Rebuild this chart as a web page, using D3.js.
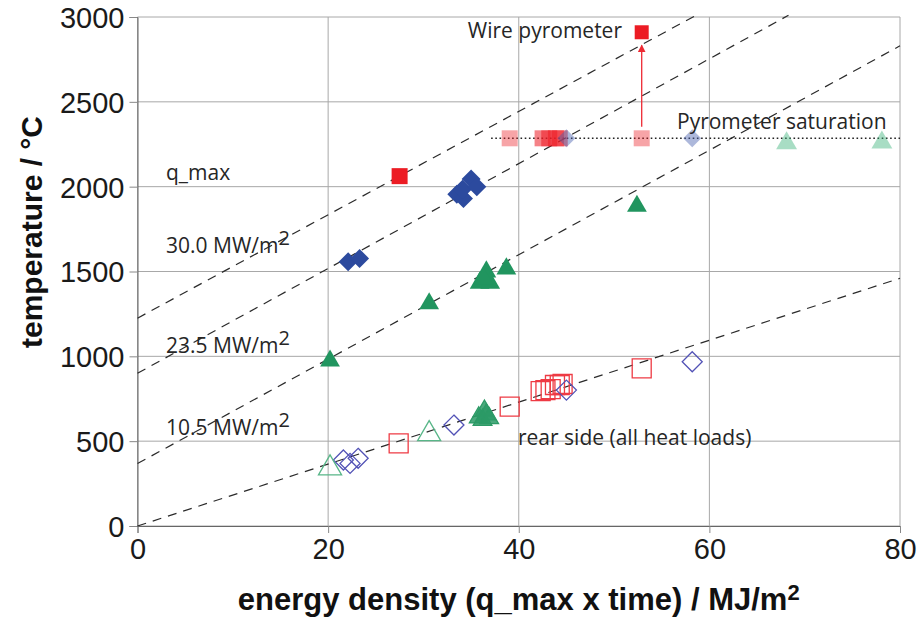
<!DOCTYPE html>
<html>
<head>
<meta charset="utf-8">
<script src="https://cdn.jsdelivr.net/npm/d3@7"></script>
<style>
  body { margin: 0; background: #fff; }
  text { font-family: "Liberation Sans", Arial, sans-serif; }
  .note { font-family: "Open Sans", "Noto Sans", sans-serif; fill: #262626; }
</style>
</head>
<body>
<div id="chart"></div>
<script>
// axis ticks
var xTicks = [0, 20, 40, 60, 80];
var yTicks = [0, 500, 1000, 1500, 2000, 2500, 3000];

// front side (filled markers) [energy density, temperature]
var frontSquares = [[27.5, 2062]];
var wireSquares = [[52.9, 2910]];
var frontDiamonds = [[22.1, 1557], [23.3, 1577], [33.5, 1955], [34.2, 1930], [34.1, 1985], [35.0, 2045], [35.6, 2000]];
var frontTriangles = [[20.2, 985], [30.6, 1322], [35.9, 1444], [36.6, 1510], [37.0, 1444], [36.3, 1470], [38.7, 1528], [52.4, 1897]];

// pyrometer saturated points
var satLevel = 2285;
var satSquaresPale = [[39.05, 2285], [52.9, 2285]];
var satSquaresHot = [[42.5, 2285], [43.2, 2285], [43.9, 2285], [44.3, 2285]];
var satDiamonds = [[45.0, 2285], [58.2, 2285]];
var satTriangles = [[68.1, 2268], [78.1, 2272]];

// rear side (open markers)
var rearSquares = [[27.4, 487], [39.05, 703], [42.3, 795], [42.8, 801], [43.35, 807], [43.8, 831], [44.3, 831], [44.6, 837], [52.9, 929]];
var rearDiamonds = [[21.6, 389], [22.3, 369], [23.15, 399], [33.2, 595], [45.0, 801], [58.2, 968]];
var rearTriangles = [[20.2, 354], [30.6, 556]];
var rearTrianglesDense = [[35.8, 650], [36.2, 636], [36.4, 690], [36.6, 668], [36.9, 646]];

// dashed guide lines
var guideQmax = [[0, 1225], [58.6, 3010]];
var guide30 = [[0, 900], [68.3, 3010]];
var guide235 = [[0, 368], [80, 2830]];
var guideRear = [[0, 0], [80, 1460]];

var width = 922, height = 621;
var margin = { top: 17, right: 22, bottom: 95, left: 137.5 };
var w = width - margin.left - margin.right;
var h = height - margin.top - margin.bottom;

var svg = d3.select("#chart").append("svg")
  .attr("width", width)
  .attr("height", height);

var g = svg.append("g")
  .attr("transform", "translate(" + margin.left + "," + margin.top + ")");

var x = d3.scaleLinear().domain([0, 80]).range([0, w]);
var y = d3.scaleLinear().domain([0, 3000]).range([h, 0]);

// grid
g.append("g").selectAll("line").data(xTicks).enter().append("line")
  .attr("x1", function(d) { return x(d); }).attr("x2", function(d) { return x(d); })
  .attr("y1", 0).attr("y2", h)
  .attr("stroke", "#a8a8a8").attr("stroke-width", 1);
g.append("g").selectAll("line").data(yTicks).enter().append("line")
  .attr("y1", function(d) { return y(d); }).attr("y2", function(d) { return y(d); })
  .attr("x1", 0).attr("x2", w)
  .attr("stroke", "#a8a8a8").attr("stroke-width", 1);

// axes
var xAxis = d3.axisBottom(x).tickValues(xTicks).tickSize(7).tickPadding(5).tickFormat(d3.format("d"));
var yAxis = d3.axisLeft(y).tickValues(yTicks).tickSize(8).tickPadding(5).tickFormat(d3.format("d"));

var gx = g.append("g").attr("transform", "translate(0," + h + ")").call(xAxis);
var gy = g.append("g").call(yAxis);
[gx, gy].forEach(function(a) {
  a.select(".domain").attr("stroke", "#666");
  a.selectAll(".tick line").attr("stroke", "#888");
  a.selectAll(".tick text")
    .attr("fill", "#1a1a1a")
    .style("font-size", "29px");
});
gy.selectAll(".tick text").attr("dy", "0.36em");

// dashed guides
var line = d3.line()
  .x(function(d) { return x(d[0]); })
  .y(function(d) { return y(d[1]); });
[guideQmax, guide30, guide235, guideRear].forEach(function(pts) {
  g.append("path")
    .attr("d", line(pts))
    .attr("fill", "none")
    .attr("stroke", "#2a2a2a")
    .attr("stroke-width", 1.2)
    .attr("stroke-dasharray", "9,7");
});

// pyrometer saturation dotted line
g.append("line")
  .attr("x1", x(37.1)).attr("x2", x(80))
  .attr("y1", y(satLevel)).attr("y2", y(satLevel))
  .attr("stroke", "#222").attr("stroke-width", 1.6)
  .attr("stroke-dasharray", "1.6,2.6");

// marker shapes
function squarePath(s) {
  return "M" + (-s) + "," + (-s) + "H" + s + "V" + s + "H" + (-s) + "Z";
}
function diamondPath(r) {
  return "M0," + (-r) + "L" + r + ",0L0," + r + "L" + (-r) + ",0Z";
}
function trianglePath(r) {
  return "M0," + (-r * 1.05) + "L" + (r * 1.1) + "," + (r * 0.85) + "L" + (-r * 1.1) + "," + (r * 0.85) + "Z";
}

function drawMarks(data, pathD, fill, stroke, opacity, sw) {
  g.append("g").selectAll("path").data(data).enter().append("path")
    .attr("transform", function(d) { return "translate(" + x(d[0]) + "," + y(d[1]) + ")"; })
    .attr("d", pathD)
    .attr("fill", fill)
    .attr("fill-opacity", opacity)
    .attr("stroke", stroke)
    .attr("stroke-width", sw || 1.2);
}

// saturated (pale)
drawMarks(satSquaresPale, squarePath(8), "#ec1c24", "none", 0.4);
drawMarks(satSquaresHot, squarePath(8), "#ec1c24", "none", 0.55);
drawMarks(satDiamonds, diamondPath(9), "#4a62b0", "none", 0.45);
drawMarks(satTriangles, trianglePath(9.5), "#3fb47c", "none", 0.45);

// front side filled
drawMarks(frontSquares, squarePath(8), "#ec1c24", "none", 1);
drawMarks(wireSquares, squarePath(7), "#ec1c24", "none", 1);
drawMarks(frontDiamonds, diamondPath(9.5), "#2c4a9e", "none", 1);
drawMarks(frontTriangles, trianglePath(9), "#21955f", "none", 1);

// rear side open
drawMarks(rearSquares, squarePath(9.5), "none", "#ee3b44", 1, 1.3);
drawMarks(rearDiamonds, diamondPath(10), "none", "#5252b6", 1, 1.3);
drawMarks(rearTriangles, trianglePath(10.5), "none", "#58b688", 1, 1.3);
drawMarks(rearTrianglesDense, trianglePath(8.5), "#2c9a66", "#2c9a66", 0.85, 1.3);

// wire pyrometer arrow
svg.append("defs").append("marker")
  .attr("id", "arrowHead")
  .attr("viewBox", "0 0 10 10")
  .attr("refX", 9).attr("refY", 5)
  .attr("markerWidth", 6).attr("markerHeight", 6)
  .attr("orient", "auto")
  .append("path").attr("d", "M0,0L10,5L0,10Z").attr("fill", "#ee2a33");
g.append("line")
  .attr("x1", x(52.9)).attr("x2", x(52.9))
  .attr("y1", y(2353)).attr("y2", y(2834))
  .attr("stroke", "#ee2a33").attr("stroke-width", 1.3)
  .attr("marker-end", "url(#arrowHead)");

// annotations
function label(tx, ty, txt, sup, anchor) {
  var t = svg.append("text").attr("class", "note")
    .attr("x", tx).attr("y", ty)
    .attr("text-anchor", anchor || "start")
    .style("font-size", "21px")
    .text(txt);
  if (sup) {
    t.append("tspan").attr("dy", "-0.42em").style("font-size", "20px").text(sup);
  }
}
label(166, 180, "q_max");
label(166, 253, "30.0 MW/m", "2");
label(166, 353, "23.5 MW/m", "2");
label(166, 435, "10.5 MW/m", "2");
label(622, 38, "Wire pyrometer", null, "end");
label(677, 129, "Pyrometer saturation");
label(518, 445, "rear side (all heat loads)");

// axis titles
var xt = svg.append("text")
  .attr("x", margin.left + w / 2).attr("y", 610)
  .attr("text-anchor", "middle")
  .style("font-size", "31px").style("font-weight", "bold").attr("fill", "#111")
  .text("energy density (q_max x time) / MJ/m");
xt.append("tspan").attr("dy", "-0.45em").style("font-size", "22px").text("2");

svg.append("text")
  .attr("transform", "translate(42,232) rotate(-90)")
  .attr("text-anchor", "middle")
  .style("font-size", "30px").style("font-weight", "bold").attr("fill", "#111")
  .text("temperature / \u00b0C");
</script>
</body>
</html>
